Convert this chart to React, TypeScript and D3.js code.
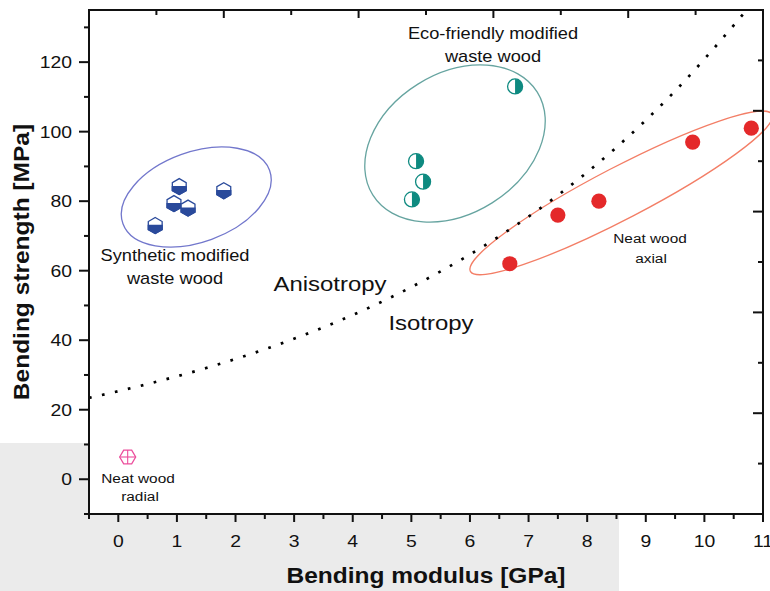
import React from 'react';
import * as d3 from 'd3';

const W = 770;
const H = 591;
const PLOT = { left: 89, right: 763, top: 10, bottom: 514 };

// axis domains & ticks
const xDomain: [number, number] = [-0.5, 11];
const yDomain: [number, number] = [-10, 135];
const xMajor = [0, 1, 2, 3, 4, 5, 6, 7, 8, 9, 10, 11];
const xMinor = [-0.5, 0.5, 1.5, 2.5, 3.5, 4.5, 5.5, 6.5, 7.5, 8.5, 9.5, 10.5];
const yMajor = [0, 20, 40, 60, 80, 100, 120];
const yMinor = [-10, 10, 30, 50, 70, 90, 110, 130];
const frameTicks = [1, 2, 3, 4, 5, 6, 7, 8, 9];

// data
const syntheticX = [0.63, 1.04, 0.95, 1.19, 1.8];
const syntheticY = [73, 84.2, 79.3, 78, 83];
const ecoX = [6.77, 5.08, 5.2, 5.01];
const ecoY = [113, 91.5, 85.6, 80.5];
const axialX = [6.68, 7.5, 8.2, 9.8, 10.8];
const axialY = [62, 76, 80, 97, 101];
const radialX = [0.16];
const radialY = [6.4];

// anisotropy / isotropy boundary
const boundaryX = [-0.5, 0.5, 1.5, 2.5, 3.5, 4.5, 5.5, 6.5, 7.5, 8.5, 9.5, 10.5, 10.68];
const boundaryY = [23.4, 27.4, 32.0, 37.4, 43.7, 51.1, 59.8, 69.9, 81.7, 95.5, 111.7, 130.6, 134.2];

// group outlines: centre in data units, semi-axes in px, rotation deg
const groupNames = ['synthetic', 'eco', 'axial'];
const groupCx = [1.33, 5.745, 8.58];
const groupCy = [81.2, 96.6, 82.4];
const groupRx = [78, 97, 170];
const groupRy = [45, 70, 26];
const groupAngle = [-20, -32, -27.5];
const groupColor = ['#7277cc', '#66a4a0', '#f37e66'];

const NAVY = '#2a4a9b';
const TEAL = '#0e8a80';
const RED = '#e4292a';
const PINK = '#ec4e9c';
const FONT = '"Liberation Sans", Arial, Helvetica, sans-serif';
const SX = 1.14;

function T(props: {
  x: number; y: number; size: number; anchor?: string; weight?: string; rotate?: number; children: React.ReactNode;
}) {
  const { x, y, size, anchor = 'middle', weight = 'normal', rotate = 0, children } = props;
  return (
    <text
      transform={`translate(${x},${y}) rotate(${rotate}) scale(${SX},1)`}
      fontSize={size}
      fontFamily={FONT}
      fontWeight={weight}
      textAnchor={anchor}
      fill="#111"
    >
      {children}
    </text>
  );
}

export default function App() {
  const x = d3.scaleLinear().domain(xDomain).range([PLOT.left, PLOT.right]);
  const y = d3.scaleLinear().domain(yDomain).range([PLOT.bottom, PLOT.top]);
  const topScale = d3.scaleLinear().domain([0, 10]).range([PLOT.left, PLOT.right]);
  const rightScale = d3.scaleLinear().domain([0, 10]).range([PLOT.bottom, PLOT.top]);

  const line = d3
    .line<number>()
    .x((_, i) => x(boundaryX[i]))
    .y((d) => y(d))
    .curve(d3.curveMonotoneX);

  const hexR = 8;
  const hw = (hexR * Math.sqrt(3)) / 2;
  const hexFull = `M0,${-hexR} L${hw},${-hexR / 2} L${hw},${hexR / 2} L0,${hexR} L${-hw},${hexR / 2} L${-hw},${-hexR / 2} Z`;
  const hexBottom = `M${-hw},0 L${hw},0 L${hw},${hexR / 2} L0,${hexR} L${-hw},${hexR / 2} Z`;
  const pr = 8;
  const ph = (pr * Math.sqrt(3)) / 2;
  const hexFlat = `M${-pr},0 L${-pr / 2},${-ph} L${pr / 2},${-ph} L${pr},0 L${pr / 2},${ph} L${-pr / 2},${ph} Z`;
  const cr = 7.5;

  return (
    <svg
      width={W}
      height={H}
      style={{ position: 'absolute', left: 0, top: 0, background: '#fff' }}
    >
      <rect x={0} y={0} width={W} height={H} fill="#fff" />
      <rect x={0} y={443} width={619} height={H - 443} fill="#ebebeb" />
      <rect
        x={PLOT.left}
        y={PLOT.top}
        width={PLOT.right - PLOT.left}
        height={PLOT.bottom - PLOT.top}
        fill="#fff"
      />

      {/* group ellipses */}
      {groupNames.map((g, i) => (
        <ellipse
          key={g}
          cx={0}
          cy={0}
          rx={groupRx[i]}
          ry={groupRy[i]}
          transform={`translate(${x(groupCx[i])},${y(groupCy[i])}) rotate(${groupAngle[i]})`}
          fill="none"
          stroke={groupColor[i]}
          strokeWidth={1.3}
        />
      ))}

      {/* boundary */}
      <path
        d={line(boundaryY) || ''}
        fill="none"
        stroke="#000"
        strokeWidth={2.7}
        strokeDasharray="2.7,10.6"
      />

      {/* synthetic modified */}
      {syntheticX.map((v, i) => (
        <g key={'s' + i} transform={`translate(${x(v)},${y(syntheticY[i])})`}>
          <path d={hexFull} fill="#fff" stroke={NAVY} strokeWidth={1.3} />
          <path d={hexBottom} fill={NAVY} stroke={NAVY} strokeWidth={1.3} />
        </g>
      ))}

      {/* eco-friendly */}
      {ecoX.map((v, i) => (
        <g key={'e' + i} transform={`translate(${x(v)},${y(ecoY[i])})`}>
          <circle r={cr} fill="#fff" stroke={TEAL} strokeWidth={1.3} />
          <path d={`M0,${-cr} A${cr},${cr} 0 0 1 0,${cr} Z`} fill={TEAL} />
        </g>
      ))}

      {/* neat wood axial */}
      {axialX.map((v, i) => (
        <circle key={'a' + i} cx={x(v)} cy={y(axialY[i])} r={7.6} fill={RED} />
      ))}

      {/* neat wood radial */}
      {radialX.map((v, i) => (
        <g key={'r' + i} transform={`translate(${x(v)},${y(radialY[i])})`}>
          <path d={hexFlat} fill="none" stroke={PINK} strokeWidth={1.3} />
          <line x1={-pr} x2={pr} y1={0} y2={0} stroke={PINK} strokeWidth={1.1} />
          <line x1={0} x2={0} y1={-ph} y2={ph} stroke={PINK} strokeWidth={1.1} />
        </g>
      ))}

      {/* annotations */}
      <T x={175} y={261} size={16}>Synthetic modified</T>
      <T x={175} y={284} size={16}>waste wood</T>
      <T x={493} y={39} size={16}>Eco-friendly modified</T>
      <T x={493} y={62} size={16}>waste wood</T>
      <T x={650} y={243} size={13.5}>Neat wood</T>
      <T x={651} y={263} size={13.5}>axial</T>
      <T x={138} y={483} size={13.5}>Neat wood</T>
      <T x={140} y={501} size={13.5}>radial</T>
      <T x={330} y={291} size={21}>Anisotropy</T>
      <T x={431} y={330} size={21}>Isotropy</T>

      {/* frame */}
      <g stroke="#111" strokeWidth={2}>
        <line x1={PLOT.left} x2={PLOT.right + 1} y1={PLOT.top} y2={PLOT.top} />
        <line x1={PLOT.right} x2={PLOT.right} y1={PLOT.top} y2={PLOT.bottom + 1} />
        <line x1={PLOT.left} x2={PLOT.left} y1={PLOT.top - 1} y2={PLOT.bottom + 1} />
        <line x1={PLOT.left - 1} x2={PLOT.right + 1} y1={PLOT.bottom} y2={PLOT.bottom} />
      </g>

      {/* ticks */}
      <g stroke="#111" strokeWidth={2}>
        {yMajor.map((t) => (
          <line key={'ym' + t} x1={PLOT.left - 10} x2={PLOT.left} y1={y(t)} y2={y(t)} />
        ))}
        {yMinor.map((t) => (
          <line key={'yn' + t} x1={PLOT.left - 5} x2={PLOT.left} y1={y(t)} y2={y(t)} />
        ))}
        {xMajor.map((t) => (
          <line key={'xm' + t} x1={x(t)} x2={x(t)} y1={PLOT.bottom} y2={PLOT.bottom + 8} />
        ))}
        {xMinor.map((t) => (
          <line key={'xn' + t} x1={x(t)} x2={x(t)} y1={PLOT.bottom} y2={PLOT.bottom + 5} />
        ))}
        {frameTicks.map((t) => (
          <line
            key={'tt' + t}
            x1={topScale(t)}
            x2={topScale(t)}
            y1={PLOT.top}
            y2={PLOT.top + (t % 2 === 0 ? 8 : 5)}
          />
        ))}
        {frameTicks.map((t) => (
          <line
            key={'rt' + t}
            x1={PLOT.right - (t % 2 === 0 ? 10 : 5)}
            x2={PLOT.right}
            y1={rightScale(t)}
            y2={rightScale(t)}
          />
        ))}
      </g>

      {/* tick labels */}
      {yMajor.map((t) => (
        <T key={'yl' + t} x={72} y={y(t) + 6} size={17} anchor="end">
          {t}
        </T>
      ))}
      {xMajor.map((t) => (
        <T key={'xl' + t} x={x(t)} y={547} size={17}>
          {t}
        </T>
      ))}

      {/* axis titles */}
      <T x={(PLOT.left + PLOT.right) / 2} y={583} size={21.5} weight="bold">
        Bending modulus [GPa]
      </T>
      <T x={29} y={(PLOT.top + PLOT.bottom) / 2} size={21.5} weight="bold" rotate={-90}>
        Bending strength [MPa]
      </T>
    </svg>
  );
}
